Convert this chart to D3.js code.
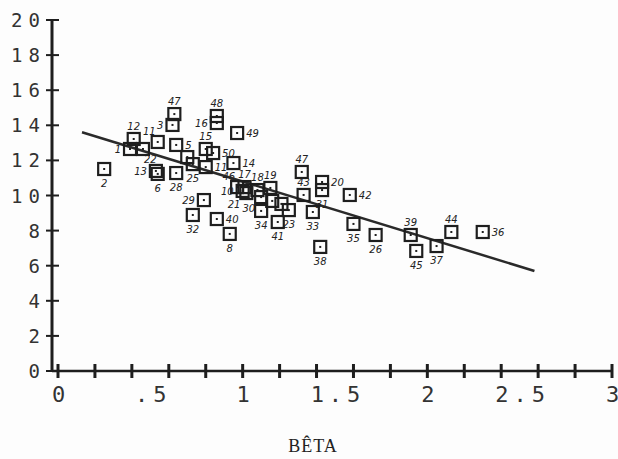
<!DOCTYPE html>
<html>
<head>
<meta charset="utf-8">
<script src="https://cdnjs.cloudflare.com/ajax/libs/d3/7.8.5/d3.min.js"></script>
<style>
  body { margin: 0; background: #fff; }
  svg { display: block; }
</style>
</head>
<body>
<div id="chart"></div>
<script>
// point labels as hand-written on the plot
var pointIds = ["1", "2", "3", "5", "6", "", "8", "", "10", "11",
  "11", "12", "13", "14", "15", "16", "17", "18", "19", "20",
  "21", "22", "23", "", "25", "26", "28", "29", "30", "31",
  "32", "33", "34", "35", "36", "37", "38", "39", "40", "41",
  "42", "43", "44", "45", "46", "47", "47", "48", "49", "50"];

// bêta (x)
var betaVals = [0.39, 0.25, 0.62, 0.64, 0.54, 0.70, 0.93, 1.16, 1.00, 0.54,
  0.80, 0.41, 0.53, 0.95, 0.80, 0.86, 1.01, 1.08, 1.15, 1.43,
  1.02, 0.46, 1.25, 1.21, 0.73, 1.72, 0.64, 0.79, 1.10, 1.43,
  0.73, 1.38, 1.10, 1.60, 2.30, 2.05, 1.42, 1.91, 0.86, 1.19,
  1.58, 1.33, 2.13, 1.94, 0.97, 0.63, 1.32, 0.86, 0.97, 0.84];

// y values
var yVals = [12.65, 11.51, 14.02, 12.88, 11.23, 12.19, 7.81, 9.69, 10.26, 13.05,
  11.62, 13.22, 11.40, 11.85, 12.65, 14.13, 10.48, 10.31, 10.43, 10.77,
  10.14, 12.65, 9.17, 9.52, 11.79, 7.75, 11.28, 9.74, 9.91, 10.31,
  8.89, 9.06, 9.12, 8.38, 7.92, 7.12, 7.07, 7.75, 8.66, 8.49,
  10.03, 10.03, 7.92, 6.84, 10.48, 14.64, 11.34, 14.53, 13.56, 12.42];

// which side of the square the number is written on
var labelSide = ["l", "b", "l", "r", "b", "", "b", "", "l", "tl",
  "r", "t", "l", "r", "t", "l", "t", "t", "t", "r",
  "bl", "br", "b", "", "b", "b", "b", "l", "bl", "b",
  "b", "b", "b", "b", "r", "b", "b", "t", "r", "b",
  "r", "t", "t", "b", "tl", "t", "t", "t", "r", "r"];

// regression line end points
var fitBeta = [0.13, 2.58];
var fitY = [13.6, 5.7];

var yTickVals = [0, 2, 4, 6, 8, 10, 12, 14, 16, 18, 20];
var xTickVals = [0, 0.5, 1, 1.5, 2, 2.5, 3];
var xTickLabels = ["0", ".5", "1", "1.5", "2", "2.5", "3"];
var xTitle = "BÊTA";

var svgWidth = 618;
var svgHeight = 459;
var ink = "#1e1e1e";

// label offsets for each side code
var sideOffset = {
  l: [-9, 4, "end"],
  r: [9, 4, "start"],
  t: [0, -9, "middle"],
  b: [0, 18, "middle"],
  tl: [-2, -7, "end"],
  bl: [-6, 15, "end"],
  br: [1, 14, "start"]
};

var svg = d3.select("#chart")
  .append("svg")
  .attr("width", svgWidth)
  .attr("height", svgHeight);

svg.append("rect")
  .attr("width", svgWidth)
  .attr("height", svgHeight)
  .attr("fill", "#fdfdfd");

// scales
var xScale = d3.scaleLinear().domain([0, 3]).range([58, 612]);
var yScale = d3.scaleLinear().domain([0, 20]).range([371, 20]);
var axisX = 52;

// y axis
svg.append("line")
  .attr("x1", axisX).attr("x2", axisX)
  .attr("y1", yScale(20) - 1).attr("y2", yScale(0) + 1)
  .attr("stroke", ink).attr("stroke-width", 3);

svg.selectAll(".ytick")
  .data(yTickVals)
  .enter()
  .append("line")
  .attr("class", "ytick")
  .attr("x1", axisX - 6).attr("x2", axisX + 7)
  .attr("y1", d => yScale(d)).attr("y2", d => yScale(d))
  .attr("stroke", ink).attr("stroke-width", 2);

svg.selectAll(".ylab")
  .data(yTickVals)
  .enter()
  .append("text")
  .attr("class", "ylab")
  .attr("x", 46)
  .attr("y", d => yScale(d) + 7)
  .attr("text-anchor", "end")
  .attr("font-family", "DejaVu Sans Mono")
  .attr("font-size", "19px")
  .attr("letter-spacing", "6px")
  .attr("fill", "#333")
  .text(d => d);

// x axis
svg.append("line")
  .attr("x1", axisX).attr("x2", xScale(3))
  .attr("y1", yScale(0)).attr("y2", yScale(0))
  .attr("stroke", ink).attr("stroke-width", 2.5);

svg.selectAll(".xtick")
  .data(xScale.ticks(12))
  .enter()
  .append("line")
  .attr("class", "xtick")
  .attr("x1", d => xScale(d)).attr("x2", d => xScale(d))
  .attr("y1", yScale(0) - 7).attr("y2", yScale(0) + 7)
  .attr("stroke", ink).attr("stroke-width", 3);

svg.selectAll(".xlab")
  .data(xTickVals)
  .enter()
  .append("text")
  .attr("class", "xlab")
  .attr("x", d => xScale(d) + 3)
  .attr("y", 402)
  .attr("text-anchor", "middle")
  .attr("font-family", "DejaVu Sans Mono")
  .attr("font-size", "22px")
  .attr("letter-spacing", "5px")
  .attr("fill", "#333")
  .text((d, i) => xTickLabels[i]);

svg.append("text")
  .attr("x", 313)
  .attr("y", 452)
  .attr("text-anchor", "middle")
  .attr("font-family", "Liberation Serif")
  .attr("font-size", "18px")
  .attr("letter-spacing", "1px")
  .attr("fill", "#222")
  .text(xTitle);

// regression line
var fitLine = d3.line()
  .x(d => xScale(d[0]))
  .y(d => yScale(d[1]));

svg.append("path")
  .datum(d3.zip(fitBeta, fitY))
  .attr("d", fitLine)
  .attr("fill", "none")
  .attr("stroke", "#2a2a2a")
  .attr("stroke-width", 2.5);

// points
var pts = pointIds.map(function(id, i) {
  return { id: id, beta: betaVals[i], y: yVals[i], side: labelSide[i] };
});

var half = 6;
var ptGroup = svg.selectAll(".pt")
  .data(pts)
  .enter()
  .append("g")
  .attr("class", "pt")
  .attr("transform", d => `translate(${xScale(d.beta)}, ${yScale(d.y)})`);

ptGroup.append("rect")
  .attr("x", -half).attr("y", -half)
  .attr("width", 2 * half).attr("height", 2 * half)
  .attr("fill", "none")
  .attr("stroke", ink)
  .attr("stroke-width", 2.2);

ptGroup.append("rect")
  .attr("x", -1).attr("y", -1)
  .attr("width", 2).attr("height", 2)
  .attr("fill", ink);

ptGroup.filter(d => d.id !== "")
  .append("text")
  .attr("x", d => sideOffset[d.side][0])
  .attr("y", d => sideOffset[d.side][1])
  .attr("text-anchor", d => sideOffset[d.side][2])
  .attr("font-family", "DejaVu Sans")
  .attr("font-style", "italic")
  .attr("font-size", "10px")
  .attr("fill", "#222")
  .text(d => d.id);
</script>
</body>
</html>
